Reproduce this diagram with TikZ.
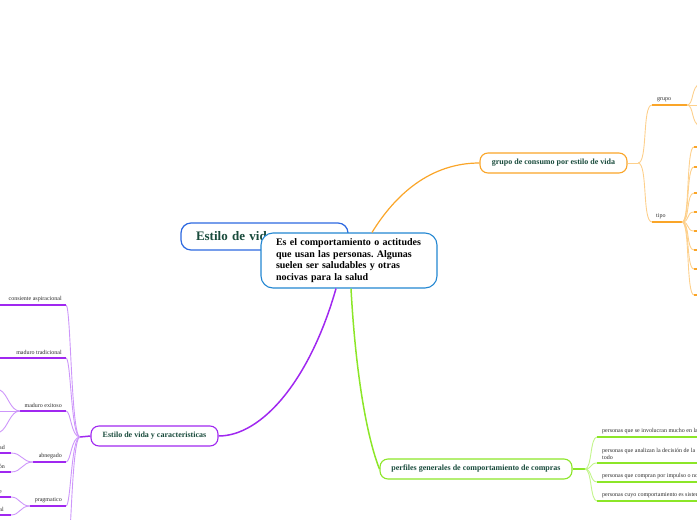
\documentclass[tikz,border=0pt]{standalone}
\usepackage{fontspec}
\setmainfont{Liberation Serif}
\frenchspacing
\begin{document}
\begin{tikzpicture}[x=1pt,y=-1pt]
\definecolor{blueT}{RGB}{45,105,225}
\definecolor{blueC}{RGB}{35,135,210}
\definecolor{orangeC}{RGB}{250,165,40}
\definecolor{orangeL}{RGB}{253,208,140}
\definecolor{purpleC}{RGB}{160,40,240}
\definecolor{purpleL}{RGB}{205,150,250}
\definecolor{greenC}{RGB}{140,230,40}
\definecolor{greenL}{RGB}{195,245,140}
\definecolor{tealT}{RGB}{25,75,60}
\definecolor{grayT}{RGB}{45,45,45}
\tikzset{
  branchbox/.style={draw, fill=white, rounded corners=8pt, line width=1.1pt, inner sep=0pt,
    font=\bfseries\fontsize{8}{9.5}\selectfont, text=tealT},
  smalltxt/.style={font=\fontsize{6}{8}\selectfont, text=grayT, inner sep=0pt, align=left},
  pconn/.style={draw=purpleL, line width=0.9pt},
  pline/.style={draw=purpleC, line width=1.5pt},
  oconn/.style={draw=orangeL, line width=0.9pt},
  oline/.style={draw=orangeC, line width=1.4pt},
  gconn/.style={draw=greenL, line width=0.9pt},
  gline/.style={draw=greenC, line width=1.5pt},
}
\path[use as bounding box] (0,0) rectangle (697,520);
\clip (0,0) rectangle (697,520);

% title node
\node[draw=blueT, fill=white, rounded corners=10pt, line width=1.2pt, minimum width=167pt, minimum height=27pt,
  text width=137pt, inner xsep=15pt, inner ysep=0pt, align=left,
  font=\bfseries\fontsize{13}{15}\selectfont, text=tealT] (t) at (264.5,236.5) {Estilo de vida};

% center node (drawn over title)
\node[draw=blueC, fill=white, rounded corners=12pt, line width=1.1pt, minimum width=176pt, minimum height=55pt,
  text width=146pt, inner xsep=15pt, inner ysep=0pt, align=left,
  font=\bfseries\fontsize{10}{11.5}\selectfont, text=black] (c) at (349,260.5)
  {Es el comportamiento o actitudes\\que usan las personas. Algunas\\suelen ser saludables y otras\\nocivas para la salud};

% branch nodes
\node[branchbox, draw=orangeC, minimum width=147pt, minimum height=20pt] (g) at (553.5,163) {grupo de consumo por estilo de vida};
\node[branchbox, draw=purpleC, minimum width=127pt, minimum height=20pt] (e) at (154.5,436) {Estilo de vida y caracteristicas};
\node[branchbox, draw=greenC, minimum width=192pt, minimum height=20pt] (p) at (476,469) {perfiles generales de comportamiento de compras};

% main connectors
\draw[draw=orangeC, line width=1.2pt] ([xshift=23pt]c.north) .. controls (395,195) and (430,163) .. (g.west);
\draw[draw=purpleC, line width=1.5pt] ([xshift=-13pt]c.south) .. controls (310,380) and (262,436) .. (e.east);
\draw[draw=greenC, line width=1.5pt] ([xshift=2pt]c.south) .. controls (356,380) and (368,440) .. (p.west);

% ---------------- orange branch ----------------
\coordinate (oh) at (638,163);
\draw[oconn] (g.east) -- (oh);
\coordinate (gr0) at (652,105); \coordinate (gr1) at (687,105);
\coordinate (ti0) at (652,222); \coordinate (ti1) at (682,222);
\draw[oconn] (oh) .. controls (648,163) and (642,105) .. (gr0);
\draw[oconn] (oh) .. controls (648,163) and (642,222) .. (ti0);
\draw[oline] (gr0) -- (gr1);
\draw[oline] (ti0) -- (ti1);
\node[smalltxt, anchor=south west] (grl) at (657,102) {grupo};
\node[smalltxt, anchor=south west] (til) at (656,219) {tipo};
\coordinate (gc1) at (700,84); \coordinate (gc2) at (700,105); \coordinate (gc3) at (700,126);
\draw[oconn] (gr1) .. controls (694,105) and (691,86) .. (gc1);
\draw[oconn] (gr1) -- (gc2);
\draw[oconn] (gr1) .. controls (694,105) and (691,124) .. (gc3);
\foreach \yy in {147,167,193,212,231,250,269,295}{
  \coordinate (tc) at (694,\yy);
  \draw[oconn] (ti1) .. controls (690,222) and (686,\yy) .. (tc);
  \draw[oline] (tc) -- (705,\yy);
}

% ---------------- purple branch ----------------
\coordinate (ph) at (80,437);
\draw[pline] (e.west) -- (ph);
% consiente aspiracional
\coordinate (a1) at (0,305); \coordinate (b1) at (66,305);
\draw[pconn] (ph) .. controls (71,437) and (71,305) .. (b1);
\draw[pline] (a1) -- (b1);
\node[smalltxt, anchor=south east] (l1) at (62,302) {consiente aspiracional};
% maduro tradicional
\coordinate (a2) at (0,358); \coordinate (b2) at (66,358);
\draw[pconn] (ph) .. controls (71,437) and (71,358) .. (b2);
\draw[pline] (a2) -- (b2);
\node[smalltxt, anchor=south east] (l2) at (62,355) {maduro tradicional};
% maduro exitoso
\coordinate (a3) at (20,411); \coordinate (b3) at (66,411);
\draw[pconn] (ph) .. controls (71,437) and (71,411) .. (b3);
\draw[pline] (a3) -- (b3);
\node[smalltxt, anchor=south east] (l3) at (62,408) {maduro exitoso};
\coordinate (a3u) at (0,390); \coordinate (a3m) at (0,411); \coordinate (a3d) at (0,432);
\draw[pconn] (a3) .. controls (10,411) and (8,394) .. (a3u);
\draw[pconn] (a3) -- (a3m);
\draw[pconn] (a3) .. controls (10,411) and (8,428) .. (a3d);
% abnegado
\coordinate (a4) at (33,462); \coordinate (b4) at (66,462);
\draw[pconn] (ph) .. controls (71,437) and (71,462) .. (b4);
\draw[pline] (a4) -- (b4);
\node[smalltxt, anchor=south east] (l4) at (62,459) {abnegado};
\coordinate (a4u) at (11,453); \coordinate (a4d) at (11,472);
\draw[pconn] (a4) .. controls (22,462) and (22,453) .. (a4u);
\draw[pconn] (a4) .. controls (22,462) and (22,472) .. (a4d);
\draw[pline] (a4u) -- (0,453);
\draw[pline] (a4d) -- (0,472);
\node[smalltxt, anchor=south east] (l4a) at (5,450) {ad};
\node[smalltxt, anchor=south east] (l4b) at (5,469) {ón};
% pragmatico
\coordinate (a5) at (30,506); \coordinate (b5) at (66,506);
\draw[pconn] (ph) .. controls (71,437) and (71,506) .. (b5);
\draw[pline] (a5) -- (b5);
\node[smalltxt, anchor=south east] (l5) at (62,503) {pragmatico};
\coordinate (a5u) at (11,497); \coordinate (a5d) at (11,515);
\draw[pconn] (a5) .. controls (20,506) and (20,497) .. (a5u);
\draw[pconn] (a5) .. controls (20,506) and (20,515) .. (a5d);
\draw[pline] (a5u) -- (0,497);
\draw[pline] (a5d) -- (0,515);
\node[smalltxt, anchor=south east] (l5a) at (2,494) {e};
\node[smalltxt, anchor=south east] (l5b) at (4,512) {al};
% branch continuing below
\coordinate (b6) at (66,570);
\draw[pconn] (ph) .. controls (71,437) and (71,570) .. (b6);

% ---------------- green branch ----------------
\coordinate (gh) at (585,469);
\draw[gline] (p.east) -- (gh);
\foreach \yy/\nm in {437/k1,463/k2,482/k3,501/k4}{
  \coordinate (\nm) at (597,\yy);
  \draw[gconn] (gh) .. controls (592,469) and (590,\yy) .. (\nm);
  \draw[gline] (\nm) -- (705,\yy);
}
\node[smalltxt, anchor=south west] (m1) at (602,434) {personas que se involucran mucho en la};
\node[smalltxt, anchor=south west, font=\fontsize{6}{7.5}\selectfont] (m2) at (602,460) {personas que analizan la decisión de la\\todo};
\node[smalltxt, anchor=south west] (m3) at (602,479) {personas que compran por impulso o no};
\node[smalltxt, anchor=south west] (m4) at (602,498) {personas cuyo comportamiento es sistemático};
\end{tikzpicture}
\end{document}
